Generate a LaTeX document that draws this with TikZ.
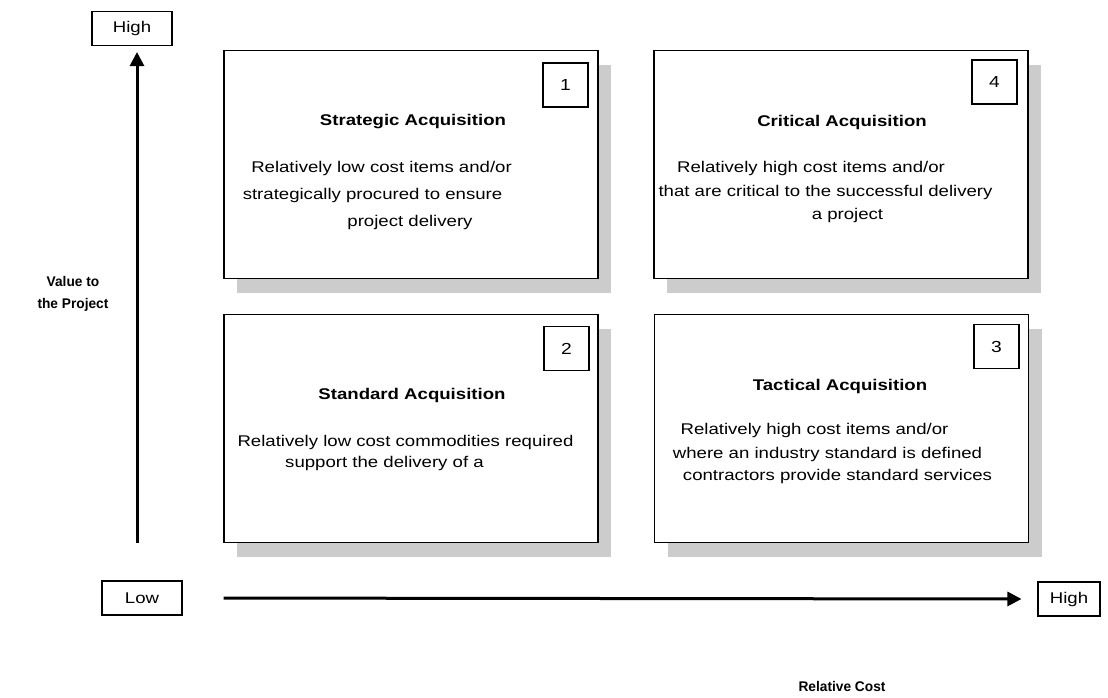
\documentclass[tikz,border=0pt]{standalone}
\usepackage{fontspec}
\setmainfont{Liberation Sans}[FakeStretch=1.2]
\newfontfamily\labelfont{Liberation Sans}[FakeStretch=0.98]
\usetikzlibrary{shadows,arrows.meta}
\begin{document}
\begin{tikzpicture}[x=1pt,y=-1pt,
  txt/.style={inner sep=0pt,font=\fontsize{15.5}{18}\selectfont},
  ttl/.style={inner sep=0pt,font=\fontsize{15.5}{18}\selectfont\bfseries},
  lbl/.style={inner sep=0pt,font=\labelfont\fontsize{14}{22}\selectfont\bfseries,align=center},
  quad/.style={draw=black,line width=1.4pt,fill=white,minimum width=374pt,minimum height=228pt,inner sep=0pt,
    drop shadow={shadow xshift=13pt,shadow yshift=-14pt,fill=black!20,opacity=1}},
  numbox/.style={draw=black,line width=1.1pt,fill=white,minimum width=45pt,minimum height=44pt,inner sep=0pt,font=\fontsize{16}{18}\selectfont},
  endbox/.style={draw=black,line width=1.1pt,fill=white,minimum width=80pt,minimum height=34pt,inner sep=0pt,font=\fontsize{15.5}{18}\selectfont},
  axis/.style={line width=3pt,-{Triangle[length=14pt,width=14pt]}}]
\useasboundingbox[fill=white] (0,0) rectangle (1108,697);

% quadrants
\node[quad] (b1) at (411,164.5) {};
\node[quad] (b4) at (841,164.5) {};
\node[quad] (b2) at (411,428.5) {};
\node[quad] (b3) at (841.5,428.5) {};

% number boxes
\node[numbox] (n1) at (565.5,85) {1};
\node[numbox] (n4) at (994.5,82) {4};
\node[numbox] (n2) at (566.5,348.5) {2};
\node[numbox] (n3) at (996.5,346.5) {3};

% titles
\node[ttl] (t1) at (413,122) {Strategic Acquisition};
\node[ttl] (t4) at (842,122) {Critical Acquisition};
\node[ttl] (t2) at (412,395) {Standard Acquisition};
\node[ttl] (t3) at (840,386) {Tactical Acquisition};

% body texts
\node[txt] (d1a) at (381.5,168) {Relatively low cost items and/or};
\node[txt] (d1b) at (372.5,195) {strategically procured to ensure};
\node[txt] (d1c) at (410,222) {project delivery};

\node[txt] (d4a) at (811,168) {Relatively high cost items and/or};
\node[txt] (d4b) at (825.5,192) {that are critical to the successful delivery};
\node[txt] (d4c) at (847.5,215) {a project};

\node[txt] (d2a) at (405.5,442) {Relatively low cost commodities required};
\node[txt] (d2b) at (384.5,463) {support the delivery of a};

\node[txt] (d3a) at (814.5,430) {Relatively high cost items and/or};
\node[txt] (d3b) at (827.5,454) {where an industry standard is defined};
\node[txt] (d3c) at (837.5,476) {contractors provide standard services};

% axis end boxes
\node[endbox] (hightop) at (132,28.5) {High};
\node[endbox] (low) at (142,598) {Low};
\node[endbox,minimum width=62pt] (highr) at (1069,599) {High};

% axis labels
\node[lbl] (vlab) at (73,294) {Value to\\the Project};
\node[lbl] (hlab) at (842,686) {Relative Cost};

% axes
\coordinate (vstart) at (137,543);
\draw[axis,shorten >=6pt] (vstart) -- (vstart |- hightop.south);
\draw[axis,shorten <=41pt,shorten >=16pt] (low.east) -- (highr.west);
\end{tikzpicture}
\end{document}
